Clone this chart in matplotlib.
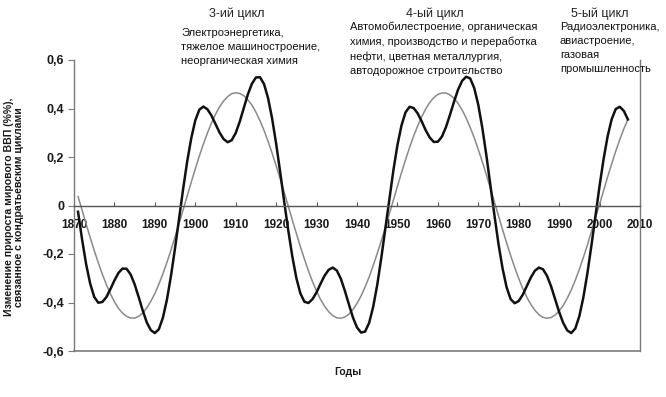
import numpy as np
import matplotlib
matplotlib.use("Agg")
import matplotlib.pyplot as plt
from matplotlib.ticker import FuncFormatter

# years and the two curves (one value per year)
years = np.arange(1871, 2008)

gray_wave = [
    0.037, -0.020, -0.076, -0.132, -0.185, -0.236, -0.283, -0.326, -0.364, -0.397,
    -0.424, -0.444, -0.457, -0.464, -0.464, -0.457, -0.443, -0.422, -0.395, -0.363,
    -0.324, -0.281, -0.234, -0.183, -0.129, -0.074, -0.017, 0.040, 0.096, 0.151,
    0.204, 0.253, 0.299, 0.340, 0.376, 0.407, 0.431, 0.449, 0.461, 0.465,
    0.462, 0.453, 0.436, 0.414, 0.385, 0.350, 0.310, 0.265, 0.216, 0.164,
    0.110, 0.054, -0.003, -0.060, -0.115, -0.170, -0.221, -0.270, -0.314, -0.353,
    -0.388, -0.416, -0.438, -0.454, -0.463, -0.465, -0.460, -0.448, -0.429, -0.404,
    -0.373, -0.336, -0.295, -0.248, -0.198, -0.146, -0.091, -0.034, 0.023, 0.079,
    0.135, 0.188, 0.239, 0.286, 0.328, 0.366, 0.398, 0.425, 0.445, 0.458,
    0.464, 0.464, 0.456, 0.442, 0.421, 0.394, 0.361, 0.322, 0.279, 0.231,
    0.180, 0.127, 0.071, 0.014, -0.043, -0.099, -0.154, -0.206, -0.255, -0.301,
    -0.342, -0.378, -0.408, -0.432, -0.450, -0.461, -0.465, -0.462, -0.452, -0.435,
    -0.412, -0.383, -0.348, -0.308, -0.263, -0.214, -0.162, -0.107, -0.051, 0.006,
    0.062, 0.118, 0.172, 0.224, 0.272, 0.316, 0.355,
]

black_wave = [
    -0.026, -0.140, -0.242, -0.322, -0.377, -0.401, -0.398, -0.378, -0.345, -0.309,
    -0.278, -0.260, -0.261, -0.284, -0.325, -0.378, -0.433, -0.482, -0.514, -0.526,
    -0.510, -0.462, -0.387, -0.289, -0.175, -0.052, 0.069, 0.182, 0.277, 0.351,
    0.395, 0.408, 0.397, 0.371, 0.336, 0.301, 0.274, 0.261, 0.269, 0.299,
    0.346, 0.402, 0.458, 0.502, 0.528, 0.529, 0.501, 0.443, 0.359, 0.255,
    0.138, 0.015, -0.103, -0.210, -0.299, -0.363, -0.397, -0.402, -0.386, -0.358,
    -0.322, -0.289, -0.265, -0.256, -0.268, -0.302, -0.352, -0.408, -0.462, -0.503,
    -0.524, -0.520, -0.484, -0.418, -0.328, -0.217, -0.096, 0.028, 0.145, 0.249,
    0.330, 0.384, 0.407, 0.402, 0.380, 0.347, 0.310, 0.280, 0.262, 0.263,
    0.284, 0.323, 0.374, 0.428, 0.478, 0.514, 0.531, 0.524, 0.484, 0.415,
    0.320, 0.207, 0.083, -0.041, -0.159, -0.259, -0.337, -0.386, -0.403, -0.394,
    -0.368, -0.333, -0.297, -0.269, -0.256, -0.263, -0.290, -0.333, -0.386, -0.439,
    -0.484, -0.515, -0.526, -0.507, -0.456, -0.378, -0.278, -0.163, -0.040, 0.081,
    0.192, 0.286, 0.356, 0.398, 0.407, 0.390, 0.355,
]

x_ticks = [1870, 1880, 1890, 1900, 1910, 1920, 1930, 1940, 1950, 1960, 1970, 1980, 1990, 2000, 2010]
y_ticks = [-0.6, -0.4, -0.2, 0, 0.2, 0.4, 0.6]

cycle_titles = ["3-ий цикл", "4-ый цикл", "5-ый цикл"]
cycle_texts = [
    "Электроэнергетика,\nтяжелое машиностроение,\nнеорганическая химия",
    "Автомобилестроение, органическая\nхимия, производство и переработка\nнефти, цветная металлургия,\nавтодорожное строительство",
    "Радиоэлектроника,\nавиастроение,\nгазовая\nпромышленность",
]

plt.rcParams['font.family'] = ['Liberation Sans Narrow', 'Liberation Sans', 'DejaVu Sans']

W, H = 666, 397
fig = plt.figure(figsize=(W / 100, H / 100), dpi=100)
ax = fig.add_axes([74 / W, 1 - 351 / H, (640 - 74) / W, (351 - 60) / H])

ax.plot(years, gray_wave, color="#8a8a8a", lw=1.1)
ax.plot(years, black_wave, color="#111111", lw=1.8)

ax.set_xlim(1870, 2010)
ax.set_ylim(-0.6, 0.6)

axis_col = "#7a7a7a"
ax.spines['top'].set_visible(False)
ax.spines['right'].set_color(axis_col)
ax.spines['left'].set_color(axis_col)
ax.spines['bottom'].set_position(('data', 0))
ax.spines['bottom'].set_color("#555555")
for s in ax.spines.values():
    s.set_linewidth(1.0)
ax.axhline(-0.6, color=axis_col, lw=1.2, clip_on=False)

ax.set_xticks(x_ticks)
ax.set_yticks(y_ticks)
ax.yaxis.set_major_formatter(FuncFormatter(
    lambda v, p: "0" if abs(v) < 1e-9 else f"{v:.1f}".replace(".", ",")))
ax.tick_params(axis='x', direction='in', length=3, width=0.8, color="#555555",
               pad=10, labelsize=8.5, labelcolor="#1a1a1a")
ax.tick_params(axis='y', direction='out', length=4, width=0.8, color=axis_col,
               pad=3, labelsize=9, labelcolor="#1a1a1a")
for lab in ax.get_xticklabels() + ax.get_yticklabels():
    lab.set_fontweight('bold')

fig.text(14 / W, 1 - 207 / H,
         "Изменение прироста мирового ВВП (%%),\nсвязанное с кондратьевским циклами",
         rotation=90, ha='center', va='center', fontsize=7.6, fontweight='bold',
         color="#1a1a1a", linespacing=1.0)
fig.text(348 / W, 1 - 372 / H, "Годы", ha='center', va='center',
         fontsize=7.5, fontweight='bold', color="#1a1a1a")

# cycle headers and industries above the curves
title_x = [237, 435, 600]
text_x = [181, 350, 560]
text_top = [28, 22, 22]
for tt, tx, bx, by, body in zip(cycle_titles, title_x, text_x, text_top, cycle_texts):
    fig.text(tx / W, 1 - 14 / H, tt, ha='center', va='center', fontsize=9, color="#222222")
    fig.text(bx / W, 1 - by / H, body, ha='left', va='top', fontsize=8.0,
             color="#111111", linespacing=1.5)

fig.savefig("out.png", dpi=100)
